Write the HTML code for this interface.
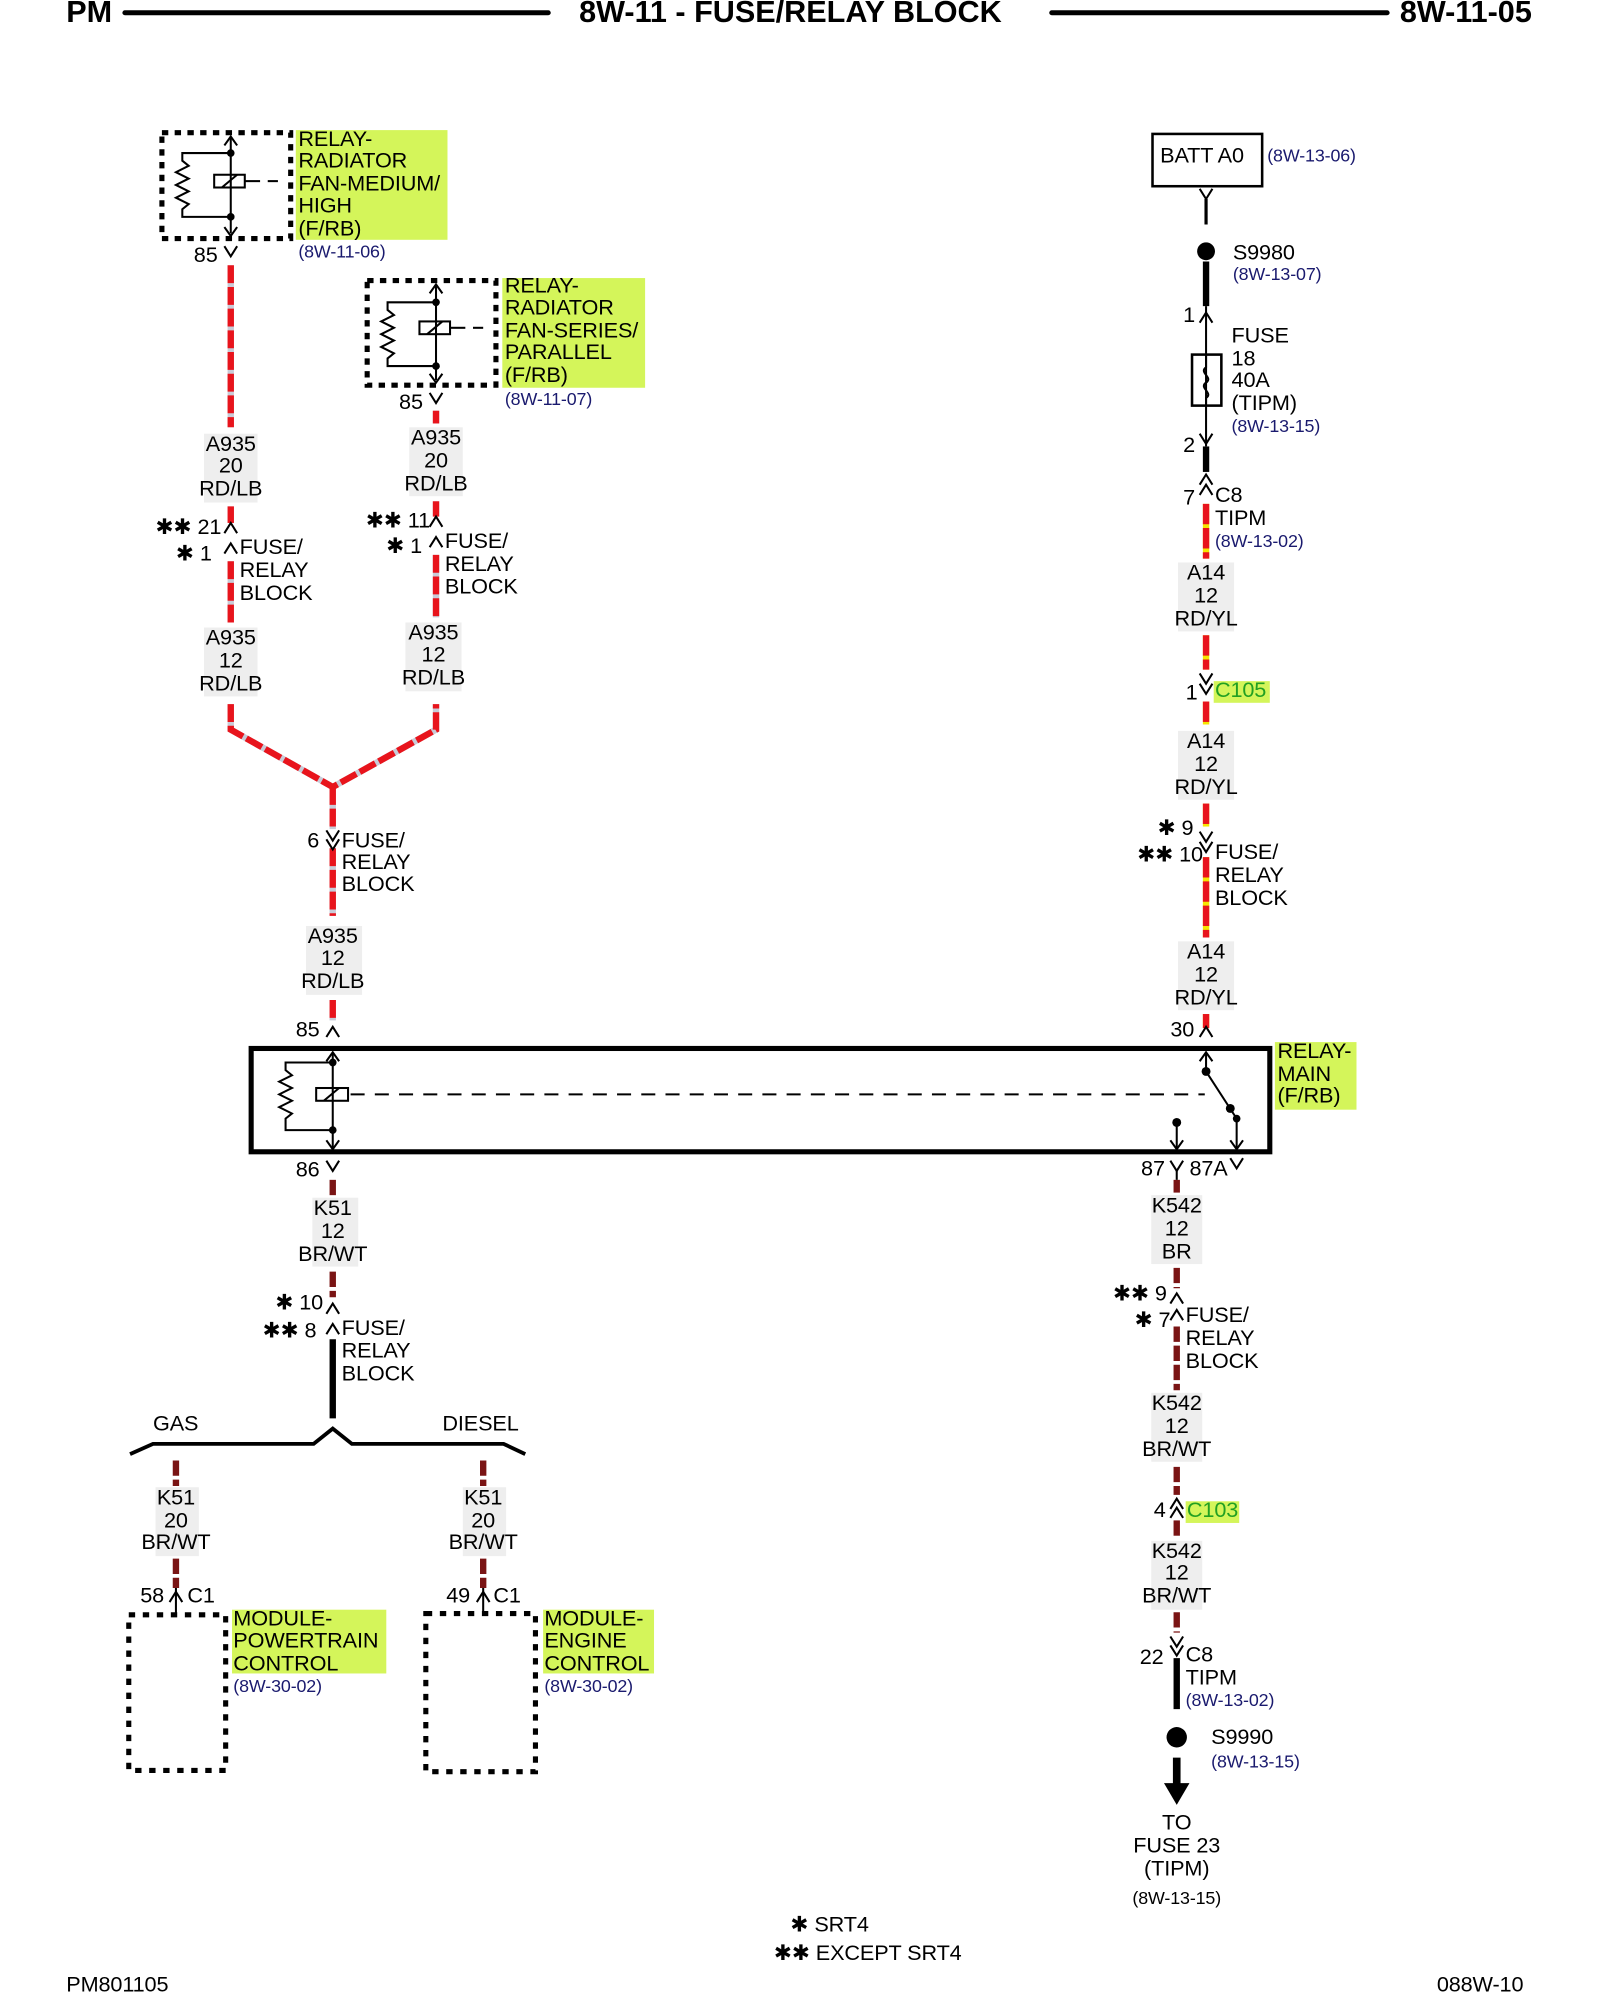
<!DOCTYPE html>
<html><head><meta charset="utf-8"><style>
html,body{margin:0;padding:0;background:#fff}
svg{display:block}
text{font-family:"Liberation Sans",Arial,sans-serif;font-size:17px;fill:#000;dominant-baseline:middle;letter-spacing:-0.1px}
.b{fill:#1a1a6e;font-size:14px}
.c{text-anchor:middle}
.h{font-size:24px;font-weight:bold;letter-spacing:0}
.w{fill:none;stroke:#000;stroke-width:1.6}
</style></head><body>
<svg width="1600" height="2000" viewBox="0 0 1255 1568" preserveAspectRatio="none" xmlns="http://www.w3.org/2000/svg">
<!-- header -->
<text x="52" y="11" class="h">PM</text>
<line x1="98" y1="10" x2="430" y2="10" stroke="#000" stroke-width="4" stroke-linecap="round"/>
<text x="620" y="11" class="h c">8W-11 - FUSE/RELAY BLOCK</text>
<line x1="825" y1="10" x2="1088" y2="10" stroke="#000" stroke-width="4" stroke-linecap="round"/>
<text x="1098" y="11" class="h">8W-11-05</text>

<!-- highlights -->
<g fill="#d4f55a">
<rect x="232" y="102" width="119" height="86"/>
<rect x="394" y="218" width="112" height="86"/>
<rect x="1000" y="817" width="64" height="53"/>
<rect x="182" y="1262" width="121" height="50"/>
<rect x="426" y="1262" width="87" height="50"/>
<rect x="952" y="534" width="44" height="17"/>
<rect x="930" y="1177" width="42" height="17"/>
</g>
<!-- grey label boxes -->
<g fill="#eeeeee">
<rect x="160" y="340" width="42" height="54"/><rect x="160" y="492" width="42" height="54"/>
<rect x="321" y="335" width="42" height="54"/><rect x="318" y="488" width="44" height="54"/>
<rect x="240" y="726" width="44" height="54"/>
<rect x="924" y="441" width="44" height="54"/><rect x="924" y="573" width="44" height="54"/><rect x="924" y="738" width="44" height="54"/>
<rect x="245" y="939" width="36" height="54"/>
<rect x="903" y="937" width="40" height="54"/><rect x="903" y="1092" width="40" height="54"/><rect x="903" y="1208" width="40" height="54"/>
<rect x="122" y="1166" width="34" height="54"/><rect x="363" y="1166" width="34" height="54"/>
</g>

<g fill="none" stroke-width="5">
<g stroke="#c8ccd8">
<line x1="181" y1="208" x2="181" y2="335"/><line x1="181" y1="397" x2="181" y2="410"/><line x1="181" y1="440" x2="181" y2="488"/>
<polyline points="181,552 181,572 261,617 342,572 342,552"/>
<line x1="342" y1="322" x2="342" y2="332"/><line x1="342" y1="393" x2="342" y2="405"/><line x1="342" y1="435" x2="342" y2="484"/>
<line x1="261" y1="617" x2="261" y2="650"/><line x1="261" y1="665" x2="261" y2="718"/><line x1="261" y1="784" x2="261" y2="800"/>
</g>
<g stroke="#e8141c" stroke-dasharray="14 3">
<line x1="181" y1="208" x2="181" y2="335"/><line x1="181" y1="397" x2="181" y2="410"/><line x1="181" y1="440" x2="181" y2="488"/>
<polyline points="181,552 181,572 261,617 342,572 342,552"/>
<line x1="342" y1="322" x2="342" y2="332"/><line x1="342" y1="393" x2="342" y2="405"/><line x1="342" y1="435" x2="342" y2="484"/>
<line x1="261" y1="617" x2="261" y2="650"/><line x1="261" y1="665" x2="261" y2="718"/><line x1="261" y1="784" x2="261" y2="800"/>
</g>
<g stroke="#f5e600">
<line x1="946" y1="395" x2="946" y2="438"/><line x1="946" y1="498" x2="946" y2="525"/><line x1="946" y1="550" x2="946" y2="568"/>
<line x1="946" y1="630" x2="946" y2="648"/><line x1="946" y1="672" x2="946" y2="735"/><line x1="946" y1="795" x2="946" y2="806"/>
</g>
<g stroke="#e8141c" stroke-dasharray="16 3">
<line x1="946" y1="395" x2="946" y2="438"/><line x1="946" y1="498" x2="946" y2="525"/><line x1="946" y1="550" x2="946" y2="568"/>
<line x1="946" y1="630" x2="946" y2="648"/><line x1="946" y1="672" x2="946" y2="735"/><line x1="946" y1="795" x2="946" y2="806"/>
</g>
<g stroke="#7a1414" stroke-dasharray="12 3">
<line x1="261" y1="925" x2="261" y2="938"/><line x1="261" y1="997" x2="261" y2="1017"/>
<line x1="923" y1="925" x2="923" y2="935"/><line x1="923" y1="994" x2="923" y2="1010"/><line x1="923" y1="1040" x2="923" y2="1090"/>
<line x1="923" y1="1150" x2="923" y2="1172"/><line x1="923" y1="1192" x2="923" y2="1206"/><line x1="923" y1="1264" x2="923" y2="1280"/>
<line x1="138" y1="1145" x2="138" y2="1165"/><line x1="138" y1="1222" x2="138" y2="1245"/>
<line x1="379" y1="1145" x2="379" y2="1165"/><line x1="379" y1="1222" x2="379" y2="1245"/>
</g>
<g stroke="#000">
<line x1="261" y1="1050" x2="261" y2="1112"/>
<line x1="946" y1="205" x2="946" y2="240"/><line x1="946" y1="350" x2="946" y2="370"/>
<line x1="923" y1="1300" x2="923" y2="1340"/>
<line x1="923" y1="1378" x2="923" y2="1400" stroke-width="6"/>
</g>
</g>
<polygon points="913,1398 933,1398 923,1415" fill="#000"/>
<polyline points="102,1140 120,1132 246,1132 261,1120 276,1132 395,1132 412,1140" fill="none" stroke="#000" stroke-width="3"/>

<!-- relay 1 -->
<rect x="127" y="104" width="101" height="83" fill="none" stroke="#000" stroke-width="4" stroke-dasharray="5 5"/>
<g class="w">
<polyline points="181,108 181,183"/><polyline points="176,114 181,107 186,114"/><polyline points="176,178 181,185 186,178"/>
<polyline points="181,120 143,120 143,126 148,130 138,135 148,140 138,145 148,150 138,155 148,160 143,164 143,170 181,170"/>
<rect x="168" y="137" width="24" height="10"/><line x1="174" y1="147" x2="186" y2="137"/>
<line x1="192" y1="142" x2="204" y2="142"/><line x1="210" y1="142" x2="218" y2="142"/>
<polyline points="176,193 181,201 186,193"/>
</g>
<circle cx="181" cy="120" r="3"/><circle cx="181" cy="170" r="3"/>
<text x="234" y="110">RELAY-</text><text x="234" y="127">RADIATOR</text><text x="234" y="145">FAN-MEDIUM/</text><text x="234" y="162">HIGH</text><text x="234" y="180">(F/RB)</text>
<text x="234" y="198" class="b">(8W-11-06)</text>
<text x="152" y="201">85</text>

<!-- relay 2 -->
<rect x="288" y="220" width="101" height="82" fill="none" stroke="#000" stroke-width="4" stroke-dasharray="5 5"/>
<g class="w">
<polyline points="342,224 342,298"/><polyline points="337,230 342,223 347,230"/><polyline points="337,293 342,300 347,293"/>
<polyline points="342,237 304,237 304,243 309,247 299,252 309,257 299,262 309,267 299,272 309,277 304,281 304,287 342,287"/>
<rect x="329" y="252" width="24" height="10"/><line x1="335" y1="262" x2="347" y2="252"/>
<line x1="353" y1="257" x2="365" y2="257"/><line x1="371" y1="257" x2="379" y2="257"/>
<polyline points="337,308 342,316 347,308"/>
</g>
<circle cx="342" cy="237" r="3"/><circle cx="342" cy="287" r="3"/>
<text x="396" y="225">RELAY-</text><text x="396" y="242">RADIATOR</text><text x="396" y="260">FAN-SERIES/</text><text x="396" y="277">PARALLEL</text><text x="396" y="295">(F/RB)</text>
<text x="396" y="314" class="b">(8W-11-07)</text>
<text x="313" y="316">85</text>

<text x="181" y="349" class="c">A935</text><text x="181" y="366" class="c">20</text><text x="181" y="384" class="c">RD/LB</text>
<text x="181" y="501" class="c">A935</text><text x="181" y="519" class="c">12</text><text x="181" y="537" class="c">RD/LB</text>
<text x="342" y="344" class="c">A935</text><text x="342" y="362" class="c">20</text><text x="342" y="380" class="c">RD/LB</text>
<text x="340" y="497" class="c">A935</text><text x="340" y="514" class="c">12</text><text x="340" y="532" class="c">RD/LB</text>
<text x="261" y="735" class="c">A935</text><text x="261" y="752" class="c">12</text><text x="261" y="770" class="c">RD/LB</text>
<g class="w">
<polyline points="176,418 181,410 186,418"/><polyline points="176,434 181,426 186,434"/>
<polyline points="337,413 342,405 347,413"/><polyline points="337,429 342,421 347,429"/>
<polyline points="256,651 261,659 266,651"/><polyline points="256,658 261,666 266,658"/>
<polyline points="256,813 261,805 266,813"/>
</g>
<text x="122" y="414">✱✱ 21</text><text x="138" y="435">✱ 1</text>
<text x="188" y="430">FUSE/</text><text x="188" y="448">RELAY</text><text x="188" y="466">BLOCK</text>
<text x="287" y="409">✱✱ 11</text><text x="303" y="429">✱ 1</text>
<text x="349" y="425">FUSE/</text><text x="349" y="443">RELAY</text><text x="349" y="461">BLOCK</text>
<text x="241" y="660">6</text>
<text x="268" y="660">FUSE/</text><text x="268" y="677">RELAY</text><text x="268" y="694">BLOCK</text>
<text x="232" y="808">85</text>

<!-- main relay -->
<rect x="197" y="822" width="799" height="81" fill="none" stroke="#000" stroke-width="4"/>
<g class="w">
<polyline points="261,826 261,900"/><polyline points="256,832 261,825 266,832"/><polyline points="256,894 261,901 266,894"/>
<polyline points="261,833 224,833 224,839 229,843 219,848 229,853 219,858 229,863 219,868 229,873 224,877 224,886 261,886"/>
<rect x="248" y="853" width="25" height="10"/><line x1="254" y1="863" x2="266" y2="853"/>
<line x1="275" y1="858" x2="945" y2="858" stroke-dasharray="11 8"/>
<polyline points="946,826 946,840 970,877"/><polyline points="941,832 946,825 951,832"/>
<line x1="970" y1="877" x2="970" y2="900"/><polyline points="965,894 970,901 975,894"/>
<line x1="923" y1="880" x2="923" y2="900"/><polyline points="918,894 923,901 928,894"/>
<polyline points="941,813 946,805 951,813"/>
<polyline points="918,910 923,918 928,910"/><line x1="923" y1="918" x2="923" y2="925"/>
<polyline points="965,908 970,916 975,908"/>
<polyline points="256,910 261,918 266,910"/>
</g>
<circle cx="261" cy="833" r="3"/><circle cx="261" cy="886" r="3"/>
<circle cx="946" cy="840" r="3.5"/><circle cx="965" cy="869" r="3.5"/><circle cx="970" cy="877" r="3"/><circle cx="923" cy="880" r="3.5"/>
<text x="1002" y="825">RELAY-</text><text x="1002" y="843">MAIN</text><text x="1002" y="860">(F/RB)</text>
<text x="918" y="808">30</text>
<text x="232" y="918">86</text>
<text x="895" y="917">87</text><text x="933" y="917">87A</text>

<!-- bottom left -->
<text x="261" y="948" class="c">K51</text><text x="261" y="966" class="c">12</text><text x="261" y="984" class="c">BR/WT</text>
<g class="w">
<polyline points="256,1030 261,1022 266,1030"/><polyline points="256,1046 261,1038 266,1046"/>
<polyline points="133,1256 138,1248 143,1256"/><line x1="138" y1="1245" x2="138" y2="1266"/>
<polyline points="374,1256 379,1248 384,1256"/><line x1="379" y1="1245" x2="379" y2="1266"/>
</g>
<text x="216" y="1022">✱ 10</text><text x="206" y="1044">✱✱ 8</text>
<text x="268" y="1042">FUSE/</text><text x="268" y="1060">RELAY</text><text x="268" y="1078">BLOCK</text>
<text x="120" y="1117">GAS</text><text x="347" y="1117">DIESEL</text>
<text x="138" y="1175" class="c">K51</text><text x="138" y="1193" class="c">20</text><text x="138" y="1210" class="c">BR/WT</text>
<text x="379" y="1175" class="c">K51</text><text x="379" y="1193" class="c">20</text><text x="379" y="1210" class="c">BR/WT</text>
<text x="110" y="1252">58</text><text x="147" y="1252">C1</text>
<text x="350" y="1252">49</text><text x="387" y="1252">C1</text>
<rect x="101" y="1266" width="76" height="122" fill="none" stroke="#000" stroke-width="4" stroke-dasharray="5 6"/>
<rect x="334" y="1265" width="86" height="124" fill="none" stroke="#000" stroke-width="4" stroke-dasharray="5 6"/>
<text x="183" y="1270">MODULE-</text><text x="183" y="1287">POWERTRAIN</text><text x="183" y="1305">CONTROL</text>
<text x="183" y="1323" class="b">(8W-30-02)</text>
<text x="427" y="1270">MODULE-</text><text x="427" y="1287">ENGINE</text><text x="427" y="1305">CONTROL</text>
<text x="427" y="1323" class="b">(8W-30-02)</text>

<!-- right column -->
<rect x="904" y="105" width="86" height="41" fill="none" stroke="#000" stroke-width="2"/>
<text x="910" y="123">BATT A0</text><text x="994" y="123" class="b">(8W-13-06)</text>
<g class="w">
<polyline points="941,148 946,156 951,148"/><line x1="946" y1="156" x2="946" y2="176" stroke-width="2.5"/>
<line x1="946" y1="240" x2="946" y2="350"/><polyline points="941,253 946,245 951,253"/>
<rect x="935" y="278" width="23" height="40" stroke-width="2"/>
<path d="M946,278 v10 c-6,4 6,8 0,12 c-6,4 6,8 0,12 v6"/>
<polyline points="941,340 946,348 951,340"/>
<polyline points="941,380 946,372 951,380"/><polyline points="941,388 946,380 951,388"/>
<polyline points="941,528 946,536 951,528"/><polyline points="941,536 946,544 951,536"/>
<polyline points="941,652 946,660 951,652"/><polyline points="941,660 946,668 951,660"/>
</g>
<circle cx="946" cy="197" r="7"/>
<text x="967" y="199">S9980</text><text x="967" y="216" class="b">(8W-13-07)</text>
<text x="928" y="248">1</text>
<text x="966" y="264">FUSE</text><text x="966" y="282">18</text><text x="966" y="299">40A</text><text x="966" y="317">(TIPM)</text>
<text x="966" y="335" class="b">(8W-13-15)</text>
<text x="928" y="350">2</text>
<text x="928" y="391">7</text><text x="953" y="389">C8</text><text x="953" y="407">TIPM</text>
<text x="953" y="425" class="b">(8W-13-02)</text>
<text x="946" y="450" class="c">A14</text><text x="946" y="468" class="c">12</text><text x="946" y="486" class="c">RD/YL</text>
<text x="930" y="544">1</text><text x="953" y="542" style="fill:#22a022">C105</text>
<text x="946" y="582" class="c">A14</text><text x="946" y="600" class="c">12</text><text x="946" y="618" class="c">RD/YL</text>
<text x="908" y="650">✱ 9</text><text x="892" y="671">✱✱ 10</text>
<text x="953" y="669">FUSE/</text><text x="953" y="687">RELAY</text><text x="953" y="705">BLOCK</text>
<text x="946" y="747" class="c">A14</text><text x="946" y="765" class="c">12</text><text x="946" y="783" class="c">RD/YL</text>

<text x="923" y="946" class="c">K542</text><text x="923" y="964" class="c">12</text><text x="923" y="982" class="c">BR</text>
<g class="w">
<polyline points="918,1022 923,1014 928,1022"/><polyline points="918,1035 923,1027 928,1035"/>
<polyline points="918,1183 923,1175 928,1183"/><polyline points="918,1190 923,1182 928,1190"/>
<polyline points="918,1283 923,1291 928,1283"/><polyline points="918,1290 923,1298 928,1290"/>
</g>
<text x="873" y="1015">✱✱ 9</text><text x="890" y="1036">✱ 7</text>
<text x="930" y="1032">FUSE/</text><text x="930" y="1050">RELAY</text><text x="930" y="1068">BLOCK</text>
<text x="923" y="1101" class="c">K542</text><text x="923" y="1119" class="c">12</text><text x="923" y="1137" class="c">BR/WT</text>
<text x="905" y="1185">4</text><text x="931" y="1185" style="fill:#22a022">C103</text>
<text x="923" y="1217" class="c">K542</text><text x="923" y="1234" class="c">12</text><text x="923" y="1252" class="c">BR/WT</text>
<text x="894" y="1300">22</text><text x="930" y="1298">C8</text><text x="930" y="1316">TIPM</text>
<text x="930" y="1334" class="b">(8W-13-02)</text>
<circle cx="923" cy="1362" r="8"/>
<text x="950" y="1363">S9990</text><text x="950" y="1382" class="b">(8W-13-15)</text>
<text x="923" y="1430" class="c">TO</text><text x="923" y="1448" class="c">FUSE 23</text><text x="923" y="1466" class="c">(TIPM)</text>
<text x="923" y="1489" class="c" style="font-size:14px">(8W-13-15)</text>

<text x="620" y="1510">✱ SRT4</text><text x="607" y="1532">✱✱ EXCEPT SRT4</text>
<text x="52" y="1557">PM801105</text><text x="1127" y="1557">088W-10</text>
</svg>
</body></html>
